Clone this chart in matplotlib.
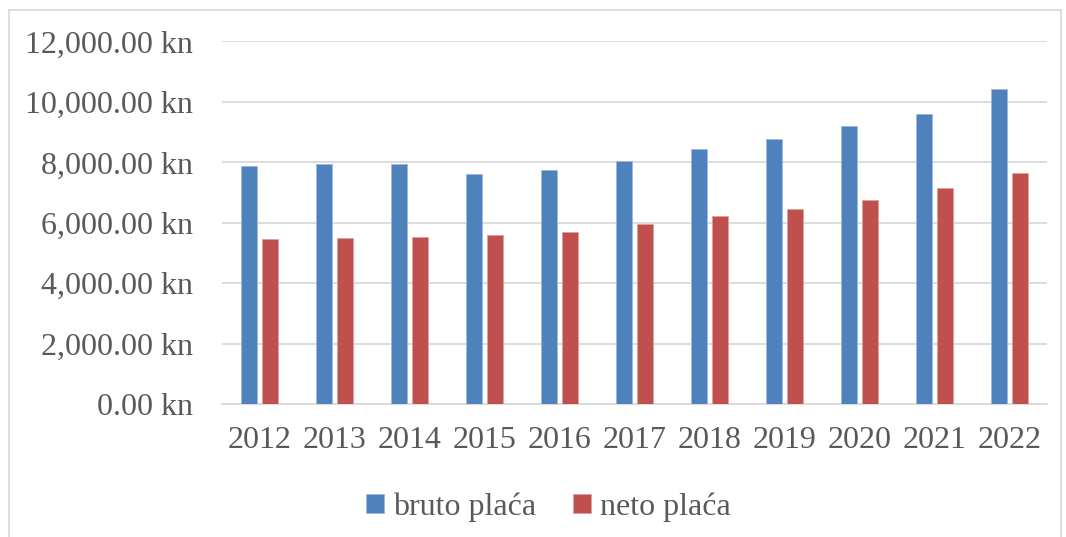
import numpy as np
import matplotlib
matplotlib.use("Agg")
import matplotlib.pyplot as plt
from matplotlib.patches import Rectangle
from matplotlib.ticker import FuncFormatter

# data (kn)
years = ['2012', '2013', '2014', '2015', '2016', '2017', '2018', '2019', '2020', '2021', '2022']
bruto = [7867, 7933, 7953, 7602, 7754, 8052, 8450, 8771, 9211, 9609, 10417]
neto = [5460, 5493, 5526, 5582, 5682, 5966, 6221, 6453, 6751, 7138, 7645]

plt.rcParams['font.family'] = ['Liberation Serif', 'DejaVu Serif']
text_color = '#595959'

fig = plt.figure(figsize=(10.66, 5.37), dpi=100)
W, H = 1066, 537
ax = fig.add_axes([222 / W, 1 - 404 / H, (1047 - 222) / W, (404 - 41.5) / H])

# outer chart border
fig.patches.append(Rectangle((9 / W, -0.02), (1061 - 9) / W, 1 - 10 / H + 0.02,
                             transform=fig.transFigure, fill=False,
                             edgecolor='#D9D9D9', linewidth=1.3))

x = np.arange(len(years))
w = 0.22
gap = 0.057
ax.bar(x - (w + gap) / 2, bruto, width=w, color='#4F81BD', edgecolor='#9DB9DD',
       linewidth=0.6, label='bruto plaća', zorder=3)
ax.bar(x + (w + gap) / 2, neto, width=w, color='#C0504D', edgecolor='#E0A09E',
       linewidth=0.6, label='neto plaća', zorder=3)

ax.set_xlim(-0.5, len(years) - 0.5)
ax.set_ylim(0, 12000)
ax.set_yticks(np.arange(0, 12001, 2000))
ax.yaxis.set_major_formatter(FuncFormatter(lambda v, p: f"{v:,.2f} kn"))
ax.set_xticks(x)
ax.set_xticklabels(years)

ax.grid(axis='y', color='#D9D9D9', linewidth=1.3, zorder=0)
for s in ['top', 'right', 'left']:
    ax.spines[s].set_visible(False)
ax.spines['bottom'].set_color('#D9D9D9')
ax.spines['bottom'].set_linewidth(1.3)
ax.tick_params(axis='both', length=0, labelsize=23, colors=text_color)
ax.tick_params(axis='y', pad=21)
ax.tick_params(axis='x', pad=16)

leg = ax.legend(loc='upper center', bbox_to_anchor=(0.396, -0.165), ncol=2,
                frameon=False, fontsize=23, handlelength=0.55, handleheight=0.55,
                handletextpad=0.3, columnspacing=1.15)
for t in leg.get_texts():
    t.set_color(text_color)

fig.savefig('out.png', dpi=100)
